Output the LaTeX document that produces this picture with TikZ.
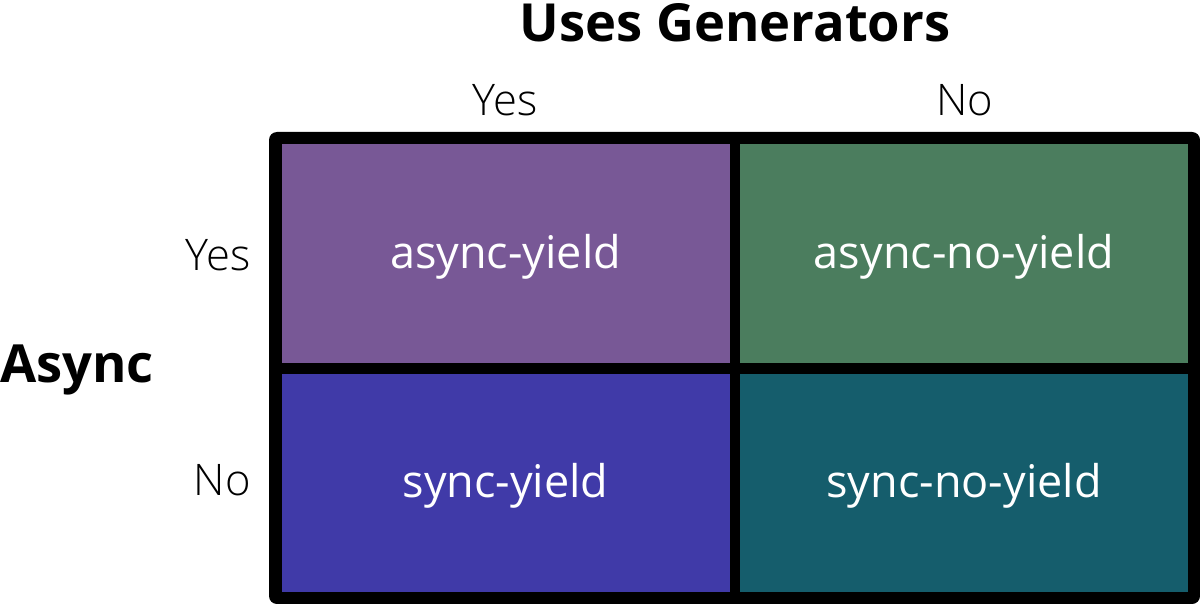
\documentclass[tikz,border=0pt]{standalone}
\usepackage{fontspec}
\setmainfont{Open Sans}
\IfFontExistsTF{Open Sans Light}
  {\newfontfamily\lightfont{Open Sans Light}}
  {\newfontfamily\lightfont{Open Sans}}
\definecolor{cellpurple}{HTML}{785896}
\definecolor{cellgreen}{HTML}{4B7D5E}
\definecolor{cellblue}{HTML}{403AA8}
\definecolor{cellteal}{HTML}{155D6C}
\begin{document}
\begin{tikzpicture}[x=1pt,y=-1pt,
  cell/.style={minimum width=448pt,minimum height=218pt,inner sep=0pt,
    text=white,font=\fontsize{45}{54}\selectfont},
  axis/.style={font=\lightfont\fontsize{43.5}{52}\selectfont},
  heading/.style={font=\bfseries\fontsize{52.5}{62}\selectfont}]
\useasboundingbox (0,0) rectangle (1200,604);
% frame
\fill[black,rounded corners=8pt] (269,132) rectangle (1200,604);
% quadrants
\node[cell,fill=cellpurple] (ay) at (505.5,253.5) {};
\node[cell,fill=cellgreen] (an) at (964,253.5) {};
\node[cell,fill=cellblue] (sy) at (505.5,482.5) {};
\node[cell,fill=cellteal] (sn) at (964,482.5) {};
\node[cell,minimum size=0pt] at ([yshift=-3pt]ay.center) {async-yield};
\node[cell,minimum size=0pt] at ([yshift=-3pt]an.center) {async-no-yield};
\node[cell,minimum size=0pt] at ([yshift=-3pt]sy.center) {sync-yield};
\node[cell,minimum size=0pt] at ([yshift=-3pt]sn.center) {sync-no-yield};
% axis labels
\node[heading] (gen) at (735,23) {Uses Generators};
\node[axis] (gy) at (505,100) {Yes};
\node[axis] (gn) at (965,100) {No};
\node[heading,anchor=west,inner sep=0pt] (async) at (0,370) {Async};
\node[axis,anchor=east,inner sep=0pt] (ry) at (251,255) {Yes};
\node[axis,anchor=east,inner sep=0pt] (rn) at (251,480) {No};
\end{tikzpicture}
\end{document}
